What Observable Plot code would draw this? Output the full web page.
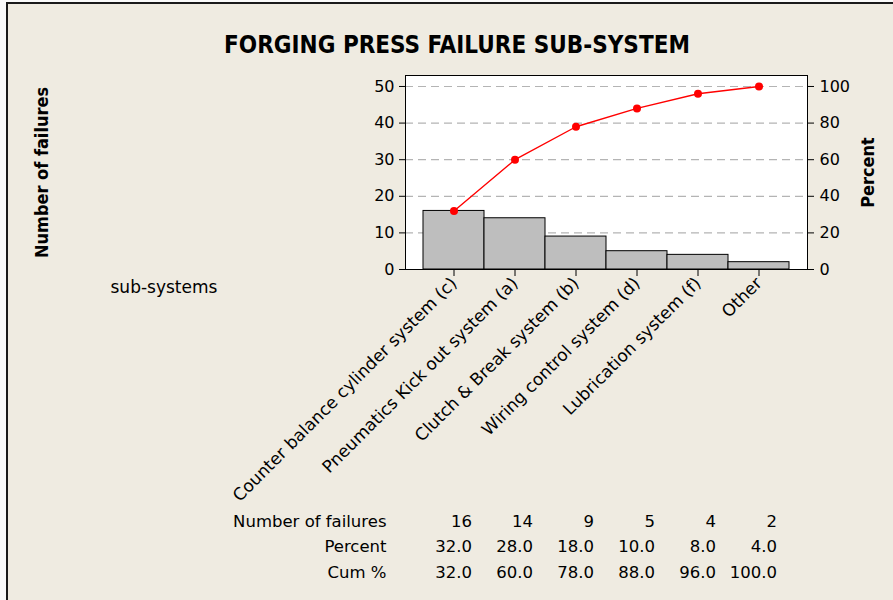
<!DOCTYPE html>
<html><head><meta charset="utf-8">
<script src="https://cdn.jsdelivr.net/npm/d3@7"></script>
<script src="https://cdn.jsdelivr.net/npm/@observablehq/plot@0.6"></script>
<style>
html,body{margin:0;padding:0;background:#fafafa;}
#wrap{position:relative;width:893px;height:600px;overflow:hidden;}
#panel{position:absolute;left:6px;top:2px;right:0;bottom:0;background:#EFEBE1;border-left:2px solid #1a1a1a;border-top:2px solid #1a1a1a;}
#title{position:absolute;left:0;width:914px;top:31px;text-align:center;font-weight:bold;font-size:24px;font-family:"DejaVu Sans Condensed","DejaVu Sans",sans-serif;color:#000;line-height:28px;}
#chart{position:absolute;left:0;top:0;}
</style></head>
<body><div id="wrap"><div id="panel"></div><div id="title">FORGING PRESS FAILURE SUB-SYSTEM</div><div id="chart"></div></div>
<script>
const categories = ["Counter balance cylinder system (c)", "Pneumatics Kick out system (a)", "Clutch & Break system (b)", "Wiring control system (d)", "Lubrication system (f)", "Other"];
const failures = [16, 14, 9, 5, 4, 2];
const percent = [32.0, 28.0, 18.0, 10.0, 8.0, 4.0];
const cumPercent = [32.0, 60.0, 78.0, 88.0, 96.0, 100.0];
const cumFailures = [16, 30, 39, 44, 48, 50];
const yTicks = [0, 10, 20, 30, 40, 50];
const pctTicks = [0, 20, 40, 60, 80, 100];
const rowLabels = ["Number of failures", "Percent", "Cum %"];

const font = '"DejaVu Sans",sans-serif';
const condensed = '"DejaVu Sans Condensed","DejaVu Sans",sans-serif';
const rows = categories.map((c, i) => ({c, n: failures[i], p: percent[i], cp: cumPercent[i], cum: cumFailures[i]}));
const tbl = 16.5;

const chart = Plot.plot({
  width: 893,
  height: 600,
  marginTop: 75,
  marginLeft: 405,
  marginRight: 86,
  marginBottom: 331,
  style: {background: "transparent", fontFamily: font, fontSize: "16px", color: "#000"},
  x: {type: "band", domain: categories, paddingInner: 0, paddingOuter: 0.26, label: null},
  y: {domain: [0, 53], label: null},
  marks: [
    Plot.frame({fill: "white"}),
    Plot.gridY(yTicks.slice(1), {stroke: "#b4b4b4", strokeOpacity: 1, strokeWidth: 1.2, strokeDasharray: "8,5"}),
    Plot.barY(rows, {x: "c", y: "n", fill: "#BEBEBE", stroke: "#000", strokeWidth: 1}),
    Plot.line(rows, {x: "c", y: "cum", stroke: "#FF0000", strokeWidth: 1.4}),
    Plot.dot(rows, {x: "c", y: "cum", fill: "#FF0000", r: 4}),
    Plot.frame({stroke: "#000", strokeWidth: 1}),
    Plot.axisY({ticks: yTicks, tickSize: 6, tickPadding: 5, label: null, fontSize: 16}),
    Plot.axisY({anchor: "right", ticks: yTicks, tickFormat: d => String(pctTicks[yTicks.indexOf(d)]), tickSize: 6, tickPadding: 6, label: null, fontSize: 16}),
    Plot.axisX({tickRotate: -45, tickSize: 7, tickPadding: 4, label: null, fontSize: 17}),
    Plot.text(["Number of failures"], {frameAnchor: "left", dx: -363, rotate: -90, textAnchor: "middle", fontWeight: "bold", fontSize: 18, fontFamily: condensed}),
    Plot.text(["Percent"], {frameAnchor: "right", dx: 61, rotate: -90, textAnchor: "middle", fontWeight: "bold", fontSize: 18, fontFamily: condensed}),
    Plot.text(["sub-systems"], {frameAnchor: "bottom-left", dx: -295, dy: 23, textAnchor: "start", fontSize: 17}),
    Plot.text([rowLabels[0]], {frameAnchor: "bottom-left", dx: -19, dy: 257, textAnchor: "end", fontSize: tbl}),
    Plot.text([rowLabels[1]], {frameAnchor: "bottom-left", dx: -19, dy: 282, textAnchor: "end", fontSize: tbl}),
    Plot.text([rowLabels[2]], {frameAnchor: "bottom-left", dx: -19, dy: 308, textAnchor: "end", fontSize: tbl}),
    Plot.text(rows, {x: "c", text: d => String(d.n), frameAnchor: "bottom", dy: 257, dx: 18, textAnchor: "end", fontSize: tbl}),
    Plot.text(rows, {x: "c", text: d => d.p.toFixed(1), frameAnchor: "bottom", dy: 282, dx: 18, textAnchor: "end", fontSize: tbl}),
    Plot.text(rows, {x: "c", text: d => d.cp.toFixed(1), frameAnchor: "bottom", dy: 308, dx: 18, textAnchor: "end", fontSize: tbl})
  ]
});
document.getElementById("chart").appendChild(chart);
</script>
</body></html>
